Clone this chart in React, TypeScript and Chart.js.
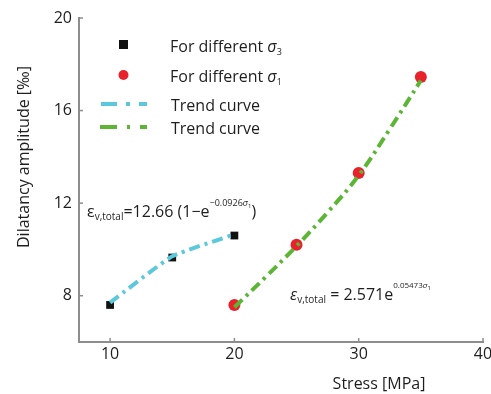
import React, { useEffect, useRef } from "react";
import { Chart, registerables } from "chart.js";

Chart.register(...registerables);

// ---- data ----
const sigma3Stress = [10, 15, 20];
const sigma3Dilatancy = [7.6, 9.65, 10.6];
const sigma1Stress = [20, 25, 30, 35];
const sigma1Dilatancy = [7.6, 10.2, 13.3, 17.45];
const trend3Stress = [10, 15, 20];
const trend3Values = [7.7, 9.7, 10.65];
const trend1Stress = [20, 22.5, 25, 27.5, 30, 32.5, 35];
const trend1Values = [7.5, 8.8, 10.15, 11.6, 13.2, 15.2, 17.3];
const xTicks = [10, 20, 30, 40];
const yTicks = [8, 12, 16, 20];
const legendLabels = ["For different ", "For different ", "Trend curve", "Trend curve"];

const FONT = '"Open Sans", "Noto Sans", sans-serif';
const CYAN = "#5cc8dc";
const GREEN = "#5db535";
const RED = "#e8212b";
const AXIS = "#8d8d8d";
const TEXT = "#1e1e1e";
const DASH = [11, 5, 3, 5];

type Seg = { t: string; size: number; dy?: number; italic?: boolean };

function drawRich(ctx: CanvasRenderingContext2D, x: number, y: number, segs: Seg[]) {
  let cx = x;
  for (const s of segs) {
    ctx.font = `${s.italic ? "italic " : ""}${s.size}px ${FONT}`;
    ctx.fillText(s.t, cx, y + (s.dy || 0));
    cx += ctx.measureText(s.t).width;
  }
}

const overlay = {
  id: "overlay",
  afterDraw(chart: any) {
    const ctx: CanvasRenderingContext2D = chart.ctx;
    const xs = chart.scales.x;
    const ys = chart.scales.y;
    const area = chart.chartArea;
    ctx.save();
    // inward ticks
    ctx.strokeStyle = AXIS;
    ctx.lineWidth = 1.5;
    for (const v of yTicks) {
      const py = ys.getPixelForValue(v);
      ctx.beginPath();
      ctx.moveTo(area.left, py);
      ctx.lineTo(area.left + 4, py);
      ctx.stroke();
    }
    for (const v of xTicks) {
      const px = xs.getPixelForValue(v);
      ctx.beginPath();
      ctx.moveTo(px, area.bottom);
      ctx.lineTo(px, area.bottom - 4);
      ctx.stroke();
    }

    ctx.fillStyle = TEXT;
    ctx.textBaseline = "alphabetic";
    ctx.textAlign = "left";

    // legend
    ctx.fillStyle = "#111";
    ctx.fillRect(119, 40, 9, 9);
    ctx.fillStyle = RED;
    ctx.beginPath();
    ctx.arc(123.5, 75, 5, 0, Math.PI * 2);
    ctx.fill();
    ctx.lineWidth = 4;
    ctx.setLineDash([16, 9, 4, 9, 8]);
    ctx.strokeStyle = CYAN;
    ctx.beginPath();
    ctx.moveTo(101, 104);
    ctx.lineTo(147, 104);
    ctx.stroke();
    ctx.setLineDash([17, 10, 3, 10, 7]);
    ctx.strokeStyle = GREEN;
    ctx.beginPath();
    ctx.moveTo(100, 127);
    ctx.lineTo(147, 127);
    ctx.stroke();
    ctx.setLineDash([]);

    ctx.fillStyle = TEXT;
    drawRich(ctx, 170, 52, [
      { t: legendLabels[0], size: 16 },
      { t: "σ", size: 16, italic: true },
      { t: "3", size: 9, dy: 3 },
    ]);
    drawRich(ctx, 170, 82, [
      { t: legendLabels[1], size: 16 },
      { t: "σ", size: 16, italic: true },
      { t: "1", size: 9, dy: 3 },
    ]);
    drawRich(ctx, 171, 111, [{ t: legendLabels[2], size: 16 }]);
    drawRich(ctx, 171, 134, [{ t: legendLabels[3], size: 16 }]);

    // equations
    drawRich(ctx, 87, 217, [
      { t: "ε", size: 16 },
      { t: "v,total", size: 10, dy: 3 },
      { t: "=12.66 (1−e", size: 16 },
      { t: "−0.0926", size: 9, dy: -11 },
      { t: "σ", size: 9, dy: -11, italic: true },
      { t: "1", size: 6, dy: -9 },
      { t: ")", size: 16 },
    ]);
    drawRich(ctx, 290, 300, [
      { t: "ε", size: 16, italic: true },
      { t: "v,total", size: 10, dy: 3 },
      { t: " = 2.571e", size: 16 },
      { t: "0.05473", size: 8, dy: -12 },
      { t: "σ", size: 8, dy: -12, italic: true },
      { t: "1", size: 6, dy: -10 },
    ]);

    // axis titles
    ctx.font = `16px ${FONT}`;
    ctx.textAlign = "center";
    ctx.fillText("Stress [MPa]", 379, 389);
    ctx.save();
    ctx.translate(29, 157);
    ctx.rotate(-Math.PI / 2);
    ctx.textBaseline = "alphabetic";
    ctx.fillText("Dilatancy amplitude [‰]", 0, 0);
    ctx.restore();

    ctx.restore();
  },
};

export default function App() {
  const ref = useRef<HTMLCanvasElement | null>(null);
  useEffect(() => {
    if (!ref.current) return;
    const chart = new Chart(ref.current, {
      type: "scatter",
      data: {
        datasets: [
          {
            label: "Trend σ3",
            type: "line",
            data: trend3Stress.map((x, i) => ({ x, y: trend3Values[i] })),
            borderColor: CYAN,
            borderWidth: 4,
            borderDash: DASH,
            pointRadius: 0,
            tension: 0.15,
            order: 0,
          },
          {
            label: "Trend σ1",
            type: "line",
            data: trend1Stress.map((x, i) => ({ x, y: trend1Values[i] })),
            borderColor: GREEN,
            borderWidth: 4,
            borderDash: DASH,
            pointRadius: 0,
            tension: 0.4,
            order: 0,
          },
          {
            label: "For different σ3",
            data: sigma3Stress.map((x, i) => ({ x, y: sigma3Dilatancy[i] })),
            pointStyle: "rect",
            pointRadius: 5.5,
            backgroundColor: "#111",
            borderColor: "#111",
            borderWidth: 0,
            order: 1,
          },
          {
            label: "For different σ1",
            data: sigma1Stress.map((x, i) => ({ x, y: sigma1Dilatancy[i] })),
            pointStyle: "circle",
            pointRadius: 6,
            backgroundColor: RED,
            borderColor: RED,
            borderWidth: 0,
            order: 1,
          },
        ],
      },
      options: {
        responsive: false,
        animation: false,
        layout: { padding: { top: 18, right: 8, bottom: 0, left: 0 } },
        plugins: { legend: { display: false }, tooltip: { enabled: false } },
        scales: {
          x: {
            type: "linear",
            min: 7.5,
            max: 40,
            afterBuildTicks: (s: any) => {
              s.ticks = xTicks.map((v) => ({ value: v }));
            },
            afterFit: (s: any) => {
              s.height = 52;
              s.paddingRight = 0;
              s.paddingLeft = 0;
            },
            grid: { display: false, drawTicks: false },
            border: { display: true, color: AXIS, width: 2 },
            ticks: { color: TEXT, font: { family: FONT, size: 16 }, padding: 3 },
          },
          y: {
            type: "linear",
            min: 6,
            max: 20,
            afterBuildTicks: (s: any) => {
              s.ticks = yTicks.map((v) => ({ value: v }));
            },
            afterFit: (s: any) => {
              s.width = 79;
            },
            grid: { display: false, drawTicks: false },
            border: { display: true, color: AXIS, width: 2 },
            ticks: { color: TEXT, font: { family: FONT, size: 16 }, padding: 7 },
          },
        },
      },
      plugins: [overlay],
    });
    return () => chart.destroy();
  }, []);
  return (
    <div style={{ position: "absolute", left: 0, top: 0, width: 491, height: 394, background: "#fff" }}>
      <canvas ref={ref} width={491} height={394} />
    </div>
  );
}
